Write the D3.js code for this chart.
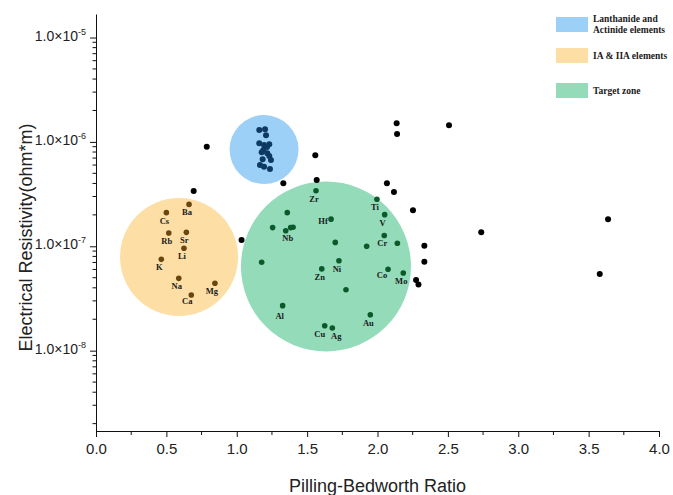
<!DOCTYPE html>
<html>
<head>
<meta charset="utf-8">
<script src="https://cdn.jsdelivr.net/npm/d3@7"></script>
<style>
  body { margin: 0; background: #fff; }
  .axis text { font-family: "Liberation Sans", Arial, sans-serif; fill: #222; }
  .axis path, .axis line { stroke: #111; }
  .el { font-family: "Liberation Serif", "Times New Roman", serif; font-weight: bold; font-size: 8.5px; fill: #1a1a1a; }
</style>
</head>
<body>
<div id="chart"></div>
<script>
// svg size + plot area
var svgWidth = 673;
var svgHeight = 495;
var margin = { top: 14, right: 14, bottom: 64, left: 96 };
var width = 563;
var height = svgHeight - margin.top - margin.bottom;

// ---- data ----
var xTicks = [0, 0.5, 1, 1.5, 2, 2.5, 3, 3.5, 4];
var yTicks = [1e-8, 1e-7, 1e-6, 1e-5];
var yTickExp = ["-8", "-7", "-6", "-5"];

// IA & IIA elements
var alkNames = ["Ba", "Cs", "Rb", "Sr", "Li", "K", "Na", "Mg", "Ca"];
var alkPBR = [0.661, 0.50, 0.517, 0.642, 0.625, 0.464, 0.588, 0.845, 0.677];
var alkRes = [2.52e-7, 2.10e-7, 1.34e-7, 1.36e-7, 9.57e-8, 7.5e-8, 4.93e-8, 4.43e-8, 3.42e-8];

// target zone elements ("" = no label)
var tgtNames = ["Zr", "", "", "Nb", "", "", "Hf", "", "Ti", "V", "Cr", "", "", "", "Ni", "Zn", "Co", "Mo", "", "Al", "Au", "Cu", "Ag"];
var tgtPBR = [1.563, 1.359, 1.255, 1.348, 1.383, 1.400, 1.670, 1.700, 1.996, 2.051, 2.048, 2.141, 1.923, 1.177, 1.726, 1.604, 2.075, 2.183, 1.776, 1.326, 1.949, 1.625, 1.679];
var tgtRes = [3.41e-7, 2.10e-7, 1.51e-7, 1.41e-7, 1.51e-7, 1.52e-7, 1.82e-7, 1.09e-7, 2.82e-7, 2.01e-7, 1.27e-7, 1.07e-7, 1.0e-7, 7.03e-8, 7.28e-8, 6.07e-8, 6.03e-8, 5.55e-8, 3.84e-8, 2.70e-8, 2.21e-8, 1.73e-8, 1.65e-8];

// lanthanide and actinide elements
var lanPBR = [1.160, 1.201, 1.208, 1.160, 1.194, 1.231, 1.189, 1.177, 1.217, 1.231, 1.184, 1.243, 1.165, 1.194, 1.236, 1.215];
var lanRes = [1.30e-6, 1.32e-6, 1.16e-6, 9.70e-7, 9.34e-7, 9.48e-7, 8.36e-7, 7.94e-7, 7.77e-7, 7.33e-7, 6.81e-7, 6.71e-7, 6.01e-7, 5.78e-7, 5.49e-7, 8.93e-7];

// other elements (black)
var othPBR = [0.694, 1.034, 0.787, 1.558, 1.568, 1.331, 2.136, 2.139, 2.508, 2.067, 2.117, 2.252, 2.333, 2.333, 2.274, 2.291, 2.737, 3.638, 3.579];
var othRes = [3.39e-7, 1.15e-7, 9.0e-7, 7.45e-7, 4.31e-7, 4.01e-7, 1.51e-6, 1.19e-6, 1.44e-6, 4.01e-7, 3.31e-7, 2.21e-7, 1.01e-7, 7.11e-8, 4.75e-8, 4.31e-8, 1.36e-7, 1.82e-7, 5.43e-8];

// zones
var zoneNames = ["Lanthanide and Actinide elements", "IA & IIA elements", "Target zone"];
var zoneLegend = [["Lanthanide and", "Actinide elements"], ["IA & IIA elements"], ["Target zone"]];
var zonePBR = [1.194, 0.590, 1.634];
var zoneRes = [8.45e-7, 7.91e-8, 6.41e-8];

// ---- styles ----
var zoneColors = ["#9dd0f6", "#fddfa6", "#93dbb9"];
var zoneRadius = [34.5, 59, 85];
// a few labels sit beside the dot instead of under it
var labelNudge = { Hf: [-8, 5], Co: [-6, 9], Cu: [-5, 11], Ag: [4, 11], Al: [-3, 13], Nb: [2, 10], Mg: [-3, 11], Ca: [-4, 9] };

var svg = d3.select("#chart")
  .append("svg")
  .attr("width", svgWidth)
  .attr("height", svgHeight);

var chartGroup = svg.append("g")
  .attr("transform", `translate(${margin.left}, ${margin.top})`);

var xLinearScale = d3.scaleLinear().domain([0, 4]).range([0, width]);
var yLogScale = d3.scaleLog().domain([1.7e-9, 1.68e-5]).range([height, 0]);

// zones
chartGroup.selectAll("circle.zone")
  .data(zoneNames)
  .join("circle")
  .attr("class", "zone")
  .attr("cx", (d, i) => xLinearScale(zonePBR[i]))
  .attr("cy", (d, i) => yLogScale(zoneRes[i]))
  .attr("r", (d, i) => zoneRadius[i])
  .attr("fill", (d, i) => zoneColors[i]);

function dots(xs, ys, color, r) {
  chartGroup.append("g")
    .selectAll("circle")
    .data(xs)
    .join("circle")
    .attr("cx", d => xLinearScale(d))
    .attr("cy", (d, i) => yLogScale(ys[i]))
    .attr("r", r)
    .attr("fill", color);
}
dots(othPBR, othRes, "#000", 3);
dots(lanPBR, lanRes, "#0c3a63", 3);
dots(alkPBR, alkRes, "#6b4510", 2.8);
dots(tgtPBR, tgtRes, "#0b5a2a", 2.8);

function labels(names, xs, ys) {
  chartGroup.append("g")
    .selectAll("text")
    .data(names)
    .join("text")
    .attr("class", "el")
    .attr("text-anchor", "middle")
    .attr("x", (d, i) => xLinearScale(xs[i]) + (labelNudge[d] ? labelNudge[d][0] : -2))
    .attr("y", (d, i) => yLogScale(ys[i]) + (labelNudge[d] ? labelNudge[d][1] : 11))
    .text(d => d);
}
labels(alkNames, alkPBR, alkRes);
labels(tgtNames, tgtPBR, tgtRes);

// x axis
var xAxis = chartGroup.append("g")
  .attr("class", "axis")
  .attr("transform", `translate(0, ${height})`)
  .call(d3.axisBottom(xLinearScale).tickValues(xTicks).tickFormat(d3.format(".1f")).tickSize(6).tickSizeOuter(0).tickPadding(6));
xAxis.selectAll("text").style("font-size", "15px");
xAxis.selectAll(".minor")
  .data(d3.range(0.25, 4, 0.5))
  .join("line")
  .attr("class", "minor")
  .attr("x1", d => xLinearScale(d)).attr("x2", d => xLinearScale(d))
  .attr("y1", 0).attr("y2", 4)
  .attr("stroke", "#111");

// y axis
var yAxis = chartGroup.append("g")
  .attr("class", "axis")
  .call(d3.axisLeft(yLogScale).tickValues(yTicks).tickFormat("").tickSize(6).tickSizeOuter(0));

var minorY = [];
[-9, -8, -7, -6, -5].forEach(function (e) {
  for (var m = 2; m <= 9; m++) {
    var v = m * Math.pow(10, e);
    if (v > 1.7e-9 && v < 1.68e-5) minorY.push(v);
  }
});
yAxis.selectAll(".minor")
  .data(minorY)
  .join("line")
  .attr("class", "minor")
  .attr("x1", 0).attr("x2", -3.5)
  .attr("y1", d => yLogScale(d)).attr("y2", d => yLogScale(d))
  .attr("stroke", "#111");

var yLab = yAxis.selectAll(".ylab")
  .data(yTicks)
  .join("text")
  .attr("class", "ylab")
  .attr("text-anchor", "end")
  .attr("x", -10)
  .attr("y", d => yLogScale(d) + 3)
  .style("font-size", "14px");
yLab.append("tspan").text("1.0\u00d710");
yLab.append("tspan").attr("dy", -6).style("font-size", "9px").text((d, i) => yTickExp[i]);

// axis titles
svg.append("text")
  .attr("x", margin.left + xLinearScale(2))
  .attr("y", 492)
  .attr("text-anchor", "middle")
  .style("font-family", "'Liberation Sans', Arial, sans-serif")
  .style("font-size", "18px")
  .attr("fill", "#222")
  .text("Pilling-Bedworth Ratio");

svg.append("text")
  .attr("transform", `translate(32, ${margin.top + height / 2 + 15}) rotate(-90)`)
  .attr("text-anchor", "middle")
  .style("font-family", "'Liberation Sans', Arial, sans-serif")
  .style("font-size", "18px")
  .attr("fill", "#222")
  .text("Electrical Resistivity(ohm*m)");

// legend
var legendTop = [17, 48, 83];
var legend = svg.append("g").attr("transform", "translate(556, 0)");
legend.selectAll("rect")
  .data(zoneNames)
  .join("rect")
  .attr("x", 0)
  .attr("y", (d, i) => legendTop[i])
  .attr("width", 32)
  .attr("height", 15)
  .attr("fill", (d, i) => zoneColors[i]);
zoneLegend.forEach(function (lines, i) {
  lines.forEach(function (t, j) {
    legend.append("text")
      .attr("class", "el")
      .style("font-size", "9.5px")
      .attr("x", 37)
      .attr("y", legendTop[i] + (lines.length > 1 ? 5 + j * 11 : 10.5))
      .text(t);
  });
});
</script>
</body>
</html>
